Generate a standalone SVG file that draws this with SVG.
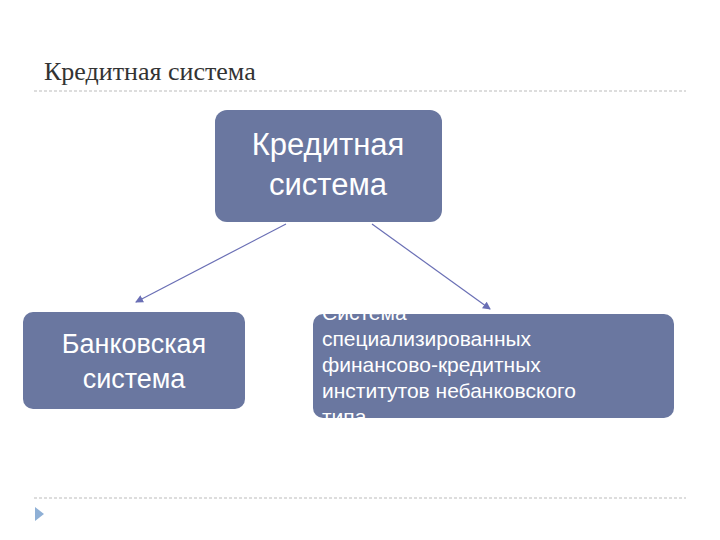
<svg xmlns="http://www.w3.org/2000/svg" width="720" height="540" viewBox="0 0 720 540">
<style>
.box{fill:#6a77a0;}
.t{font-family:"Liberation Sans",Arial,sans-serif;fill:#fff;}
.c{stroke:#6a6fb5;stroke-width:1.2;fill:none;marker-end:url(#a);}
.sep{stroke:#bbb;stroke-width:1;stroke-dasharray:3 2;}
</style>
<defs><marker id="a" markerWidth="8" markerHeight="8" refX="7" refY="4" orient="auto" markerUnits="userSpaceOnUse"><path d="M0,0 L8,4 L0,8 Z" fill="#6a6fb5"/></marker></defs>
<rect width="720" height="540" fill="#fff"/>
<text x="44" y="80" font-family="'Liberation Serif','Times New Roman',serif" font-size="26" fill="#333">Кредитная система</text>
<line class="sep" x1="34" y1="91" x2="686" y2="91"/>
<line class="sep" x1="34" y1="498" x2="686" y2="498"/>
<path d="M35,507 L44,514 L35,521 Z" fill="#8fb0d6"/>
<g id="connectors">
<path class="c" d="M286,224 L136,302"/>
<path class="c" d="M372,224 L490,309"/>
</g>
<g id="root"><rect class="box" x="215" y="110" width="227" height="112" rx="12"/>
<text class="t" font-size="31" text-anchor="middle"><tspan x="328" y="155">Кредитная</tspan><tspan x="328" y="195">система</tspan></text></g>
<g id="bank"><rect class="box" x="23" y="312" width="222" height="97" rx="10"/>
<text class="t" font-size="27" text-anchor="middle"><tspan x="134" y="353">Банковская</tspan><tspan x="134" y="388">система</tspan></text></g>
<g id="nonbank"><rect class="box" x="313" y="314" width="361" height="104" rx="10"/>
<text class="t" font-size="21"><tspan x="322" y="320">Система</tspan><tspan x="322" y="346">специализированных</tspan><tspan x="322" y="372">финансово-кредитных</tspan><tspan x="322" y="398">институтов небанковского</tspan><tspan x="322" y="424">типа</tspan></text></g>
</svg>
